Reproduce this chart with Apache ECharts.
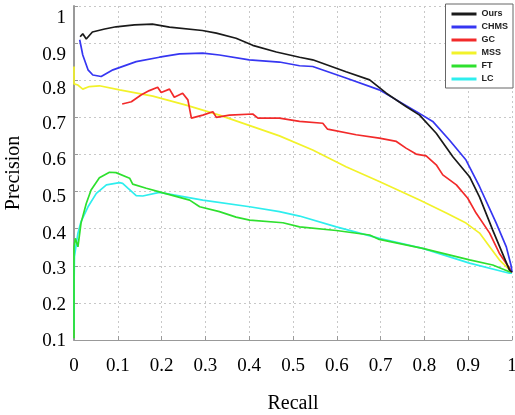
<!DOCTYPE html>
<html>
<head>
<meta charset="utf-8">
<script src="https://cdn.jsdelivr.net/npm/echarts@6/dist/echarts.min.js"></script>
<style>html,body{margin:0;padding:0;background:#fff}#c{width:515px;height:415px}</style>
</head>
<body>
<div id="c"></div>
<script>
var seriesNames = ['Ours','CHMS','GC','MSS','FT','LC'];
var xTickLabels = ['0','0.1','0.2','0.3','0.4','0.5','0.6','0.7','0.8','0.9','1'];
var yTickLabels = ['0.1','0.2','0.3','0.4','0.5','0.6','0.7','0.8','0.9','1'];

var oursRecall = [0.014,0.02,0.028,0.042,0.07,0.096,0.138,0.179,0.218,0.293,0.325,0.37,0.408,0.462,0.515,0.545,0.621,0.675,0.713,0.758,0.789,0.827,0.865,0.903,0.926,0.956,0.994,1.0];
var oursPrecision = [0.917,0.925,0.911,0.930,0.938,0.944,0.949,0.951,0.943,0.934,0.927,0.913,0.894,0.876,0.862,0.855,0.823,0.801,0.765,0.729,0.706,0.657,0.594,0.540,0.485,0.396,0.289,0.283];

var chmsRecall = [0.013,0.02,0.032,0.043,0.062,0.089,0.142,0.195,0.241,0.294,0.332,0.4,0.469,0.515,0.545,0.621,0.697,0.736,0.781,0.819,0.857,0.895,0.926,0.964,0.987,0.998,1.0];
var chmsPrecision = [0.909,0.868,0.828,0.814,0.81,0.828,0.850,0.862,0.871,0.873,0.868,0.855,0.849,0.839,0.837,0.806,0.774,0.747,0.716,0.689,0.639,0.585,0.513,0.415,0.351,0.300,0.283];

var gcRecall = [0.110,0.131,0.153,0.172,0.191,0.199,0.218,0.229,0.248,0.26,0.268,0.294,0.317,0.325,0.355,0.408,0.42,0.469,0.515,0.568,0.579,0.644,0.697,0.736,0.758,0.781,0.804,0.827,0.842,0.873,0.899,0.918,0.949,0.971,0.994,1.0];
var gcPrecision = [0.736,0.742,0.760,0.772,0.781,0.767,0.776,0.754,0.765,0.747,0.698,0.706,0.715,0.700,0.706,0.709,0.698,0.698,0.689,0.684,0.668,0.653,0.644,0.635,0.617,0.601,0.596,0.572,0.545,0.518,0.482,0.442,0.388,0.334,0.294,0.283];

var mssRecall = [0,0,0.009,0.02,0.035,0.058,0.104,0.18,0.256,0.332,0.408,0.469,0.545,0.621,0.697,0.789,0.85,0.895,0.926,0.949,0.971,0.998,1.0];
var mssPrecision = [0.837,0.79,0.787,0.776,0.783,0.785,0.774,0.757,0.733,0.706,0.675,0.650,0.612,0.567,0.527,0.477,0.442,0.415,0.388,0.351,0.316,0.285,0.283];

var ftRecall = [0,0,0.003,0.009,0.016,0.028,0.039,0.058,0.081,0.096,0.127,0.134,0.165,0.195,0.264,0.287,0.332,0.37,0.401,0.477,0.515,0.599,0.675,0.697,0.796,0.903,0.956,0.994,1.0];
var ftPrecision = [0.105,0.35,0.374,0.351,0.415,0.468,0.504,0.537,0.552,0.551,0.536,0.520,0.509,0.499,0.477,0.459,0.446,0.431,0.423,0.416,0.405,0.395,0.383,0.371,0.347,0.316,0.302,0.284,0.283];

var lcRecall = [0,0,0.001,0.009,0.016,0.032,0.051,0.074,0.104,0.111,0.123,0.142,0.157,0.195,0.294,0.401,0.469,0.515,0.599,0.697,0.796,0.903,0.994,1.0];
var lcPrecision = [0.127,0.235,0.325,0.388,0.419,0.459,0.495,0.518,0.524,0.522,0.509,0.489,0.488,0.498,0.477,0.459,0.446,0.434,0.405,0.374,0.347,0.307,0.280,0.28];

var colors = ['#1a1a1a','#3636f2','#f22a2a','#f2f22a','#2ee02e','#2eeeee'];
var recalls = [oursRecall, chmsRecall, gcRecall, mssRecall, ftRecall, lcRecall];
var precisions = [oursPrecision, chmsPrecision, gcPrecision, mssPrecision, ftPrecision, lcPrecision];

// visual nudge (px, downward) of each y tick label, as in the rasterized original
var yLabelNudge = [1,2,3,5,5,6,7,9,12,12];

function pairs(xs, ys){ return xs.map(function(x,i){ return [x, ys[i]]; }); }
function idx(v, start){ return Math.round((v - start) * 10); }

var serif = "'Liberation Serif', 'Times New Roman', serif";
var yRich = {};
yLabelNudge.forEach(function(n, i){
  yRich['o' + i] = { fontFamily: serif, fontSize: 19, color: '#000', padding: [2 * n, 0, 0, 0] };
});

var series = seriesNames.map(function(n, i){
  return {
    name: n, type: 'line', showSymbol: false, symbol: 'none',
    data: pairs(recalls[i], precisions[i]),
    lineStyle: { color: colors[i], width: 1.7 },
    itemStyle: { color: colors[i] },
    z: 10 - i
  };
});

var chart = echarts.init(document.getElementById('c'), null, {renderer:'canvas'});
chart.setOption({
  animation: false,
  backgroundColor: '#fff',
  grid: { left: 74, right: 3, top: 6, bottom: 75, outerBoundsMode: 'none', containLabel: false },
  xAxis: {
    type: 'value', min: 0, max: 1, interval: 0.1,
    name: 'Recall', nameLocation: 'middle', nameGap: 54,
    nameTextStyle: { fontFamily: serif, fontSize: 20, color: '#000' },
    axisLine: { show: true, onZero: false, lineStyle: { color: '#999', width: 1 } },
    axisTick: { show: true, inside: true, length: 4, lineStyle: { color: '#999' } },
    axisLabel: { margin: 17, fontFamily: serif, fontSize: 19, color: '#000',
      formatter: function(v){ var s = xTickLabels[idx(v, 0)]; return s === undefined ? '' : s; } },
    splitLine: { show: true, lineStyle: { color: '#c8c8c8', type: [2,3], width: 1 } }
  },
  yAxis: {
    type: 'value', min: 0.1, max: 1, interval: 0.1,
    name: 'Precision', nameLocation: 'middle', nameGap: 50,
    nameTextStyle: { fontFamily: serif, fontSize: 20, color: '#000' },
    axisLine: { show: true, onZero: false, lineStyle: { color: '#999', width: 2 } },
    axisTick: { show: true, inside: true, length: 4, lineStyle: { color: '#999' } },
    axisLabel: { margin: 8, fontFamily: serif, fontSize: 19, color: '#000', rich: yRich,
      formatter: function(v){ var i = idx(v, 0.1); var s = yTickLabels[i]; return s === undefined ? '' : '{o' + i + '|' + s + '}'; } },
    splitLine: { show: true, lineStyle: { color: '#c8c8c8', type: [2,3], width: 1 } }
  },
  legend: {
    orient: 'vertical', right: 2, top: 4,
    data: seriesNames,
    icon: 'rect', itemWidth: 25, itemHeight: 3, itemGap: 3,
    borderColor: '#666', borderWidth: 1, backgroundColor: '#fff',
    padding: [5, 5, 4, 6],
    textStyle: { fontFamily: "'Liberation Sans', Arial, sans-serif", fontWeight: 'bold', fontSize: 9, color: '#222', lineHeight: 10 }
  },
  series: series
});
</script>
</body>
</html>
